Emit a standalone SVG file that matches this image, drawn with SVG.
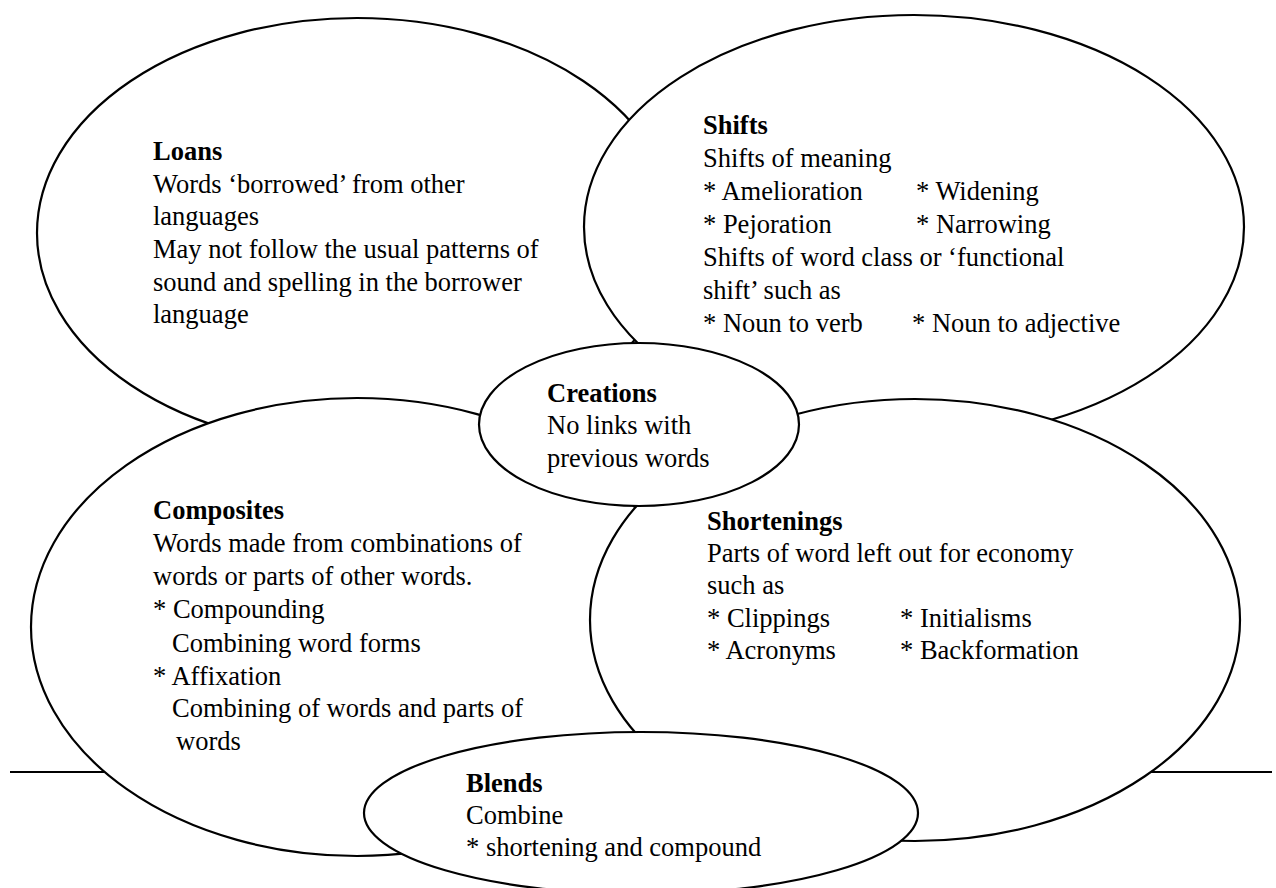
<svg xmlns="http://www.w3.org/2000/svg" width="1276" height="888" viewBox="0 0 1276 888">
<style>
.bg{fill:#ffffff}
.shape{fill:#ffffff;stroke:#000000;stroke-width:2.2}
.rule{stroke:#000000;stroke-width:2.2;fill:none}
text{font-family:"Liberation Serif","Times New Roman",serif;font-size:26.5px;fill:#000000}
.t{font-weight:bold}
</style>
<rect class="bg" x="0" y="0" width="1276" height="888"/>
<g id="connectors">
<line class="rule" x1="10" y1="772" x2="1272" y2="772"/>
</g>
<g id="loans">
<ellipse class="shape" cx="357" cy="233" rx="320" ry="215"/>
<text class="t" x="153" y="160">Loans</text>
<text x="153" y="193">Words ‘borrowed’ from other</text>
<text x="153" y="225">languages</text>
<text x="153" y="258">May not follow the usual patterns of</text>
<text x="153" y="291">sound and spelling in the borrower</text>
<text x="153" y="323">language</text>
</g>
<g id="shifts">
<ellipse class="shape" cx="914" cy="227" rx="330" ry="212"/>
<text class="t" x="703" y="134">Shifts</text>
<text x="703" y="167">Shifts of meaning</text>
<text x="703" y="200">* Amelioration</text>
<text x="916" y="200">* Widening</text>
<text x="703" y="233">* Pejoration</text>
<text x="916" y="233">* Narrowing</text>
<text x="703" y="266">Shifts of word class or ‘functional</text>
<text x="703" y="299">shift’ such as</text>
<text x="703" y="332">* Noun to verb</text>
<text x="912" y="332">* Noun to adjective</text>
</g>
<g id="composites">
<ellipse class="shape" cx="357" cy="627" rx="326" ry="229"/>
<text class="t" x="153" y="519">Composites</text>
<text x="153" y="552">Words made from combinations of</text>
<text x="153" y="585">words or parts of other words.</text>
<text x="153" y="618">* Compounding</text>
<text x="172" y="652">Combining word forms</text>
<text x="153" y="685">* Affixation</text>
<text x="172" y="717">Combining of words and parts of</text>
<text x="176" y="750">words</text>
</g>
<g id="shortenings">
<ellipse class="shape" cx="915" cy="620" rx="325" ry="221"/>
<text class="t" x="707" y="530">Shortenings</text>
<text x="707" y="562">Parts of word left out for economy</text>
<text x="707" y="594">such as</text>
<text x="707" y="627">* Clippings</text>
<text x="900" y="627">* Initialisms</text>
<text x="707" y="659">* Acronyms</text>
<text x="900" y="659">* Backformation</text>
</g>
<g id="creations">
<ellipse class="shape" cx="639" cy="424.5" rx="160" ry="81.5"/>
<text class="t" x="547" y="402">Creations</text>
<text x="547" y="434">No links with</text>
<text x="547" y="467">previous words</text>
</g>
<g id="blends">
<ellipse class="shape" cx="641" cy="813" rx="277" ry="81"/>
<text class="t" x="466" y="792">Blends</text>
<text x="466" y="824">Combine</text>
<text x="466" y="856">* shortening and compound</text>
</g>
</svg>
